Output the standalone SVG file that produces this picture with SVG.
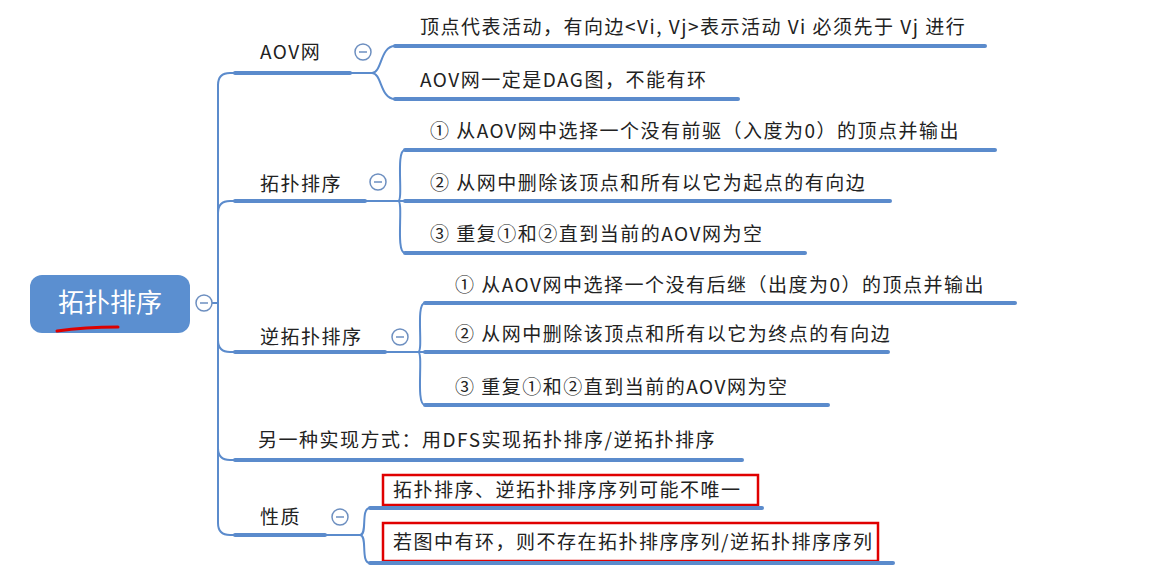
<svg xmlns="http://www.w3.org/2000/svg" width="1174" height="576" viewBox="0 0 1174 576">
<style>
.t{font-family:"Noto Sans CJK SC","Liberation Sans",sans-serif;font-size:19px;letter-spacing:1.5px;fill:#222}
.u{stroke:#5b8bcc;stroke-width:4;fill:none;stroke-linecap:round}
.c{stroke:#5b8bcc;stroke-width:2;fill:none}
.cc{fill:#fff;stroke:#6d8fc0;stroke-width:1.5}
.red{fill:none;stroke:#e00000;stroke-width:2.5}
</style>
<rect width="1174" height="576" fill="#fff"/>
<g id="connectors">
<path class="c" d="M212,303 H218 M218,303 V85 Q218,73 230,73 H235 M218,303 V213 Q218,201 230,201 H235 M218,303 V340 Q218,352 230,352 H235 M218,303 V448 Q218,460 230,460 H235 M218,303 V523 Q218,535 230,535 H235"/>
<path class="c" d="M350,73 H372 M372,73 C382,73 380,46 395,46 M372,73 C382,73 380,99 395,99"/>
<path class="c" d="M365,201 H398 M398,201 C404,201 395,150 405,150 M398,201 H405 M398,201 C404,201 395,253 405,253"/>
<path class="c" d="M385,352 H418 M418,352 C424,352 415,303 425,303 M418,352 H425 M418,352 C424,352 415,405 425,405"/>
<path class="c" d="M325,535 H360 M360,535 C368,535 360,508 370,508 M360,535 C368,535 360,563 370,563"/>
</g>
<g id="root">
<rect x="30" y="275" width="160" height="58" rx="12" fill="#5b8fd0"/>
<text x="110" y="312" text-anchor="middle" font-family="Noto Sans CJK SC,sans-serif" font-size="26" fill="#fff">拓扑排序</text>
<path d="M57,331 Q85,327 118,327" stroke="#d00" stroke-width="3" fill="none" stroke-linecap="round"/>
<circle class="cc" cx="204" cy="303" r="8"/><path d="M200,303 H208" stroke="#6d8fc0" stroke-width="1.5"/>
</g>
<g id="aov">
<text class="t" x="260" y="59">AOV网</text><path class="u" d="M235,73 H350"/>
<circle class="cc" cx="363" cy="52" r="8"/><path d="M359,52 H367" stroke="#6d8fc0" stroke-width="1.5"/>
</g>
<g id="aov1"><text class="t" x="420" y="34">顶点代表活动，有向边&lt;Vi, Vj&gt;表示活动 Vi 必须先于 Vj 进行</text><path class="u" d="M395,46 H985"/></g>
<g id="aov2"><text class="t" x="420" y="87">AOV网一定是DAG图，不能有环</text><path class="u" d="M395,99 H738"/></g>
<g id="topo">
<text class="t" x="260" y="191">拓扑排序</text><path class="u" d="M235,201 H365"/>
<circle class="cc" cx="378" cy="182" r="8"/><path d="M374,182 H382" stroke="#6d8fc0" stroke-width="1.5"/>
</g>
<g id="topo1"><text class="t" x="430" y="138">① 从AOV网中选择一个没有前驱（入度为0）的顶点并输出</text><path class="u" d="M405,150 H995"/></g>
<g id="topo2"><text class="t" x="430" y="190">② 从网中删除该顶点和所有以它为起点的有向边</text><path class="u" d="M405,201 H890"/></g>
<g id="topo3"><text class="t" x="430" y="241">③ 重复①和②直到当前的AOV网为空</text><path class="u" d="M405,253 H805"/></g>
<g id="rtopo">
<text class="t" x="260" y="344">逆拓扑排序</text><path class="u" d="M235,352 H385"/>
<circle class="cc" cx="400" cy="337" r="8"/><path d="M396,337 H404" stroke="#6d8fc0" stroke-width="1.5"/>
</g>
<g id="rtopo1"><text class="t" x="455" y="292">① 从AOV网中选择一个没有后继（出度为0）的顶点并输出</text><path class="u" d="M425,303 H1015"/></g>
<g id="rtopo2"><text class="t" x="455" y="341">② 从网中删除该顶点和所有以它为终点的有向边</text><path class="u" d="M425,352 H888"/></g>
<g id="rtopo3"><text class="t" x="455" y="394">③ 重复①和②直到当前的AOV网为空</text><path class="u" d="M425,405 H828"/></g>
<g id="dfs"><text class="t" x="258" y="447">另一种实现方式：用DFS实现拓扑排序/逆拓扑排序</text><path class="u" d="M235,460 H742"/></g>
<g id="prop">
<text class="t" x="260" y="524">性质</text><path class="u" d="M235,535 H325"/>
<circle class="cc" cx="340" cy="517" r="8"/><path d="M336,517 H344" stroke="#6d8fc0" stroke-width="1.5"/>
</g>
<g id="prop1"><rect class="red" x="383" y="475" width="375" height="30"/><text class="t" x="393" y="497">拓扑排序、逆拓扑排序序列可能不唯一</text><path class="u" d="M370,508 H762"/></g>
<g id="prop2"><rect class="red" x="383" y="523" width="495" height="38"/><text class="t" x="393" y="549">若图中有环，则不存在拓扑排序序列/逆拓扑排序序列</text><path class="u" d="M370,563 H893"/></g>
</svg>
